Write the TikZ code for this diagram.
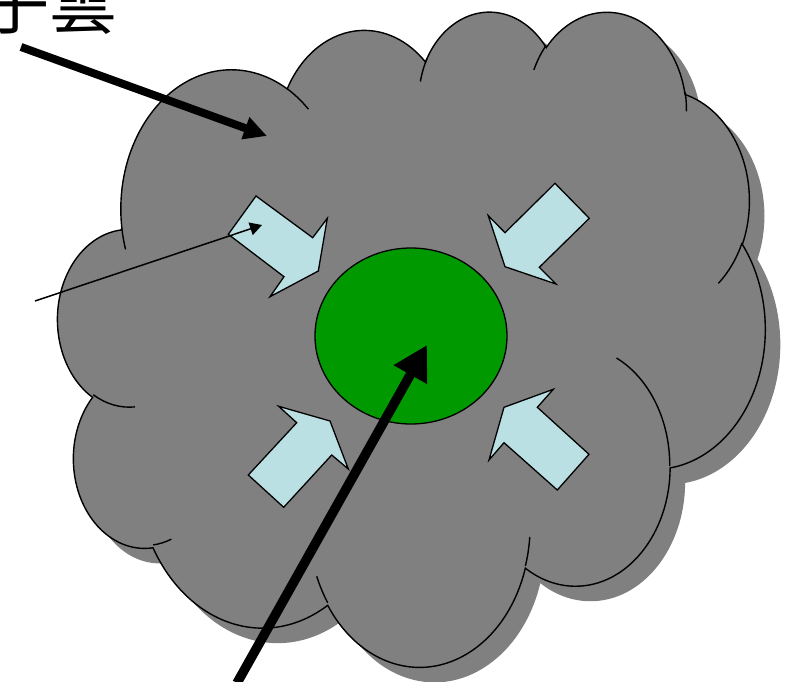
\documentclass[tikz,border=0pt]{standalone}
\usepackage{fontspec}
\newfontfamily\cjk{Noto Sans CJK JP}
\usetikzlibrary{arrows.meta,shapes.geometric}
\definecolor{cloudgray}{RGB}{128,128,128}
\definecolor{arrowblue}{RGB}{187,224,227}
\definecolor{stargreen}{RGB}{0,153,0}

% DrawingML arcTo: wR, hR, start (visual deg), sweep (deg)
\newcommand\cloudarc[4]{%
  \pgfmathsetmacro\mycA{atan2((#1)*sin(#3),(#2)*cos(#3))}%
  \pgfmathsetmacro\mycB{atan2((#1)*sin((#3)+(#4)),(#2)*cos((#3)+(#4)))}%
  \pgfmathsetmacro\mycD{\mycB-\mycA}%
  \pgfmathsetmacro\mycD{\mycD<0 ? \mycD+360 : \mycD}%
  \global\let\cloudts\mycA\global\let\clouddd\mycD}
\newcommand\carc[4]{\pgfextra{\cloudarc{#1}{#2}{#3}{#4}} arc[x radius=#1,y radius=#2,start angle=\cloudts,delta angle=\clouddd]}

\newcommand\cloudmain{(39.00,143.70)
 \carc{67.53}{91.90}{-190.48748}{123.78053}
 \carc{53.33}{72.67}{-144.10238}{89.94523}
 \carc{43.65}{59.45}{-145.80792}{99.72302}
 \carc{48.57}{65.95}{-130.98607}{117.24173}
 \carc{53.33}{72.73}{-78.70888}{109.02692}
 \carc{67.75}{92.20}{-46.26725}{130.269}
 \carc{57.85}{78.67}{0.62502}{114.03333}
 \carc{67.52}{92.15}{22.4516}{115.17255}
 \carc{77.20}{105.43}{66.24263}{75.71102}
 \carc{43.60}{59.18}{-274.94208}{146.73557}
 \carc{43.45}{59.45}{-246.8285}{152.51885}
 -- cycle}

\newcommand\cloudinner{
 (46.93,261.77) \carc{43.45}{59.45}{86.742}{26.4295}
 (69.28,348.99) \carc{43.60}{59.18}{73.61047}{11.44747}
 (164.78,390.90) \carc{67.52}{92.15}{137.62415}{14.0811}
 (288.27,347.51) \carc{67.52}{92.15}{6.45327}{15.99835}
 (341.29,229.54) \carc{57.85}{78.67}{-70.29235}{70.91737}
 (417.98,153.54) \carc{53.33}{72.73}{30.31803}{27.7515}
 (383.24,54.26) \carc{48.57}{65.95}{-13.74433}{14.8589}
 (290.78,39.52) \carc{48.57}{65.95}{-149.18145}{18.19275}
 (221.41,47.20) \carc{43.65}{59.45}{-163.49427}{19.51362}
 (140.00,51.92) \carc{67.53}{91.90}{-66.70695}{12.31935}
 (41.27,157.89) \carc{67.53}{91.90}{157.65435}{11.85817}
}

\tikzset{
  cloudscale/.style={x=1.63657pt,y=-1.51620pt},
  blockarrow/.style={fill=arrowblue,draw=black,line width=1.3pt,line join=miter},
}

\begin{document}
\begin{tikzpicture}[x=1pt,y=-1pt]
\useasboundingbox (0,0) rectangle (787,682);
\fill[white] (0,0) rectangle (787,682);
\clip (0,0) rectangle (787,682);

% shadow
\begin{scope}[shift={(73,25)},cloudscale]
  \fill[cloudgray] \cloudmain;
\end{scope}
% cloud
\begin{scope}[shift={(58,10)},cloudscale]
  \fill[cloudgray] \cloudmain;
  \draw[line width=1.4pt] \cloudmain;
  \draw[line width=1.4pt] \cloudinner;
\end{scope}

% protostar
\node[ellipse,draw=black,fill=stargreen,line width=1.3pt,inner sep=0pt,
      minimum width=192pt,minimum height=176pt] (star) at (411,336) {};

% inward block arrows
\path[blockarrow] (256,196) -- (312.7,237.7) -- (327.3,218.3) -- (318.3,271)
  -- (270,296.7) -- (284,276.7) -- (228.3,234.3) -- cycle;
\path[blockarrow] (555,183.3) -- (589.3,218.3) -- (539.3,267.3) -- (556,284)
  -- (505,266.7) -- (488.3,215.7) -- (505,232.7) -- cycle;
\path[blockarrow] (248.3,475) -- (283.7,507.3) -- (331.7,455) -- (348.3,469)
  -- (330,421) -- (278.7,406.3) -- (296.7,422.7) -- cycle;
\path[blockarrow] (553.3,389.3) -- (537.3,407.3) -- (589,454.3) -- (557.3,490)
  -- (504,442.7) -- (489,460) -- (504,407.3) -- cycle;

% label
\node[anchor=base,inner sep=0pt,font=\cjk\fontsize{68}{68}\selectfont] (cloudlabel) at (16,29) {分子雲};

% connectors
\coordinate (aS) at (21,47);
\coordinate (aE) at (267,136);
\coordinate (bS) at (237,683);
\coordinate (bE) at (427,345);
\coordinate (cS) at (35,301);
\coordinate (cE) at (262,225);
\draw[line width=8pt,-{Triangle[length=23pt,width=22pt]}] (aS) -- (aE);
\draw[line width=9.5pt,-{Triangle[length=34pt,width=36pt]}] (bS) -- (bE);
\draw[line width=1.5pt,-{Triangle[length=12pt,width=13pt]}] (cS) -- (cE);
\end{tikzpicture}
\end{document}
